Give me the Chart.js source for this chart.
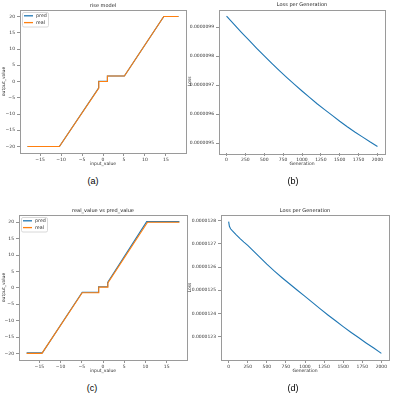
<!DOCTYPE html>
<html>
<head>
<meta charset="utf-8">
<script src="https://cdn.jsdelivr.net/npm/chart.js@4/dist/chart.umd.min.js"></script>
<style>
body{margin:0;background:#fff;width:396px;height:395px;position:relative;overflow:hidden}
canvas{position:absolute}
.cap{position:absolute;font:9px "Liberation Sans",Arial,sans-serif;color:#000;transform:translate(-50%,-50%)}
</style>
</head>
<body>
<canvas id="ca" width="196" height="173" style="left:0;top:0"></canvas>
<canvas id="cb" width="210" height="173" style="left:186px;top:0"></canvas>
<canvas id="cc" width="196" height="180" style="left:0;top:200px"></canvas>
<canvas id="cd" width="210" height="180" style="left:186px;top:200px"></canvas>
<div class="cap" style="left:93px;top:181px">(a)</div>
<div class="cap" style="left:293px;top:181px">(b)</div>
<div class="cap" style="left:92px;top:388px">(c)</div>
<div class="cap" style="left:293px;top:388px">(d)</div>
<script>
// (a) rise model
var aPredX = [-18, -10.4, -1.05, -1.05, 1.05, 1.05, 5.1, 14.5, 18];
var aPredY = [-20, -20, -2.05, 0.05, 0.05, 1.7, 1.7, 20, 20];
var aRealX = [-18, -10.4, -1.0, -1.0, 1.05, 1.05, 5.1, 14.5, 18];
var aRealY = [-20, -20, -2.0, 0, 0, 1.7, 1.7, 20, 20];

// (c) real_value vs pred_value
var cPredX = [-18, -14.3, -4.9, -1.05, -1.05, 1.1, 1.1, 10.3, 18];
var cPredY = [-19.85, -19.85, -1.35, -1.35, 0.35, 0.35, 1.65, 20.2, 20.2];
var cRealX = [-18, -14.4, -4.9, -1.0, -1.0, 1.15, 1.15, 10.5, 18];
var cRealY = [-20, -20, -1.5, -1.5, 0.2, 0.2, 1.5, 20, 20];

// (b) loss per generation
var genB = [0, 100, 200, 300, 400, 500, 600, 700, 800, 900, 1000,
            1100, 1200, 1300, 1400, 1500, 1600, 1700, 1800, 1900, 2000];
var lossB = [9.938e-6, 9.909e-6, 9.881e-6, 9.854e-6, 9.827e-6, 9.801e-6, 9.775e-6,
             9.750e-6, 9.726e-6, 9.703e-6, 9.680e-6, 9.658e-6, 9.636e-6, 9.616e-6,
             9.596e-6, 9.576e-6, 9.557e-6, 9.539e-6, 9.522e-6, 9.505e-6, 9.489e-6];

// (d) loss per generation
var genD = [0, 10, 25, 50, 100, 150, 200, 250, 300, 400, 500, 600, 700, 800, 900, 1000,
            1100, 1200, 1300, 1400, 1500, 1600, 1700, 1800, 1900, 2000];
var lossD = [1.2795e-5, 1.2775e-5, 1.2764e-5, 1.2755e-5, 1.2738e-5, 1.2722e-5, 1.2707e-5,
             1.2693e-5, 1.2677e-5, 1.2645e-5, 1.2612e-5, 1.2582e-5, 1.2554e-5, 1.2527e-5,
             1.2500e-5, 1.2474e-5, 1.2447e-5, 1.2420e-5, 1.2394e-5, 1.2369e-5, 1.2344e-5,
             1.2320e-5, 1.2297e-5, 1.2274e-5, 1.2252e-5, 1.2229e-5];

// tick positions
var inputTicks = [-15, -10, -5, 0, 5, 10, 15];
var outputTicks = [-20, -15, -10, -5, 0, 5, 10, 15, 20];
var genTicks = [0, 250, 500, 750, 1000, 1250, 1500, 1750, 2000];
var lossBTicks = [9.5e-6, 9.6e-6, 9.7e-6, 9.8e-6, 9.9e-6];
var lossDTicks = [1.23e-5, 1.24e-5, 1.25e-5, 1.26e-5, 1.27e-5, 1.28e-5];

var BLUE = '#1f77b4', ORANGE = '#ff7f0e';
var FONT = '"DejaVu Sans", sans-serif';

function pts(xs, ys) {
  return xs.map(function (x, i) { return {x: x, y: ys[i]}; });
}

function padRange(arrs) {
  var all = [].concat.apply([], arrs);
  var lo = Math.min.apply(null, all), hi = Math.max.apply(null, all);
  var m = (hi - lo) * 0.05;
  return [lo - m, hi + m];
}

function minus(v) {
  return v < 0 ? '\u2212' + Math.abs(v) : String(v);
}

// matplotlib style box round the axes
const frame = {
  id: 'frame',
  afterDraw(chart) {
    const a = chart.chartArea, ctx = chart.ctx;
    ctx.save();
    ctx.strokeStyle = '#9a9a9a';
    ctx.lineWidth = 1;
    ctx.strokeRect(Math.round(a.left) + 0.5, Math.round(a.top) + 0.5,
      Math.round(a.right - a.left), Math.round(a.bottom - a.top));
    ctx.restore();
  }
};

// small legend drawn inside the plot, top left
const boxLegend = {
  id: 'boxLegend',
  afterDraw(chart, args, opts) {
    if (!opts.show) return;
    const a = chart.chartArea, ctx = chart.ctx;
    const x = a.left + 2, y = a.top + 2;
    ctx.save();
    ctx.fillStyle = 'rgba(255,255,255,0.85)';
    ctx.strokeStyle = '#d8d8d8';
    ctx.lineWidth = 1;
    ctx.beginPath();
    ctx.roundRect(x + 0.5, y + 0.5, 26, 14.5, 1.5);
    ctx.fill();
    ctx.stroke();
    ctx.font = '4.8px ' + FONT;
    ctx.textBaseline = 'middle';
    chart.data.datasets.forEach(function (ds, i) {
      const ly = y + 3.8 + i * 6.8;
      ctx.strokeStyle = ds.borderColor;
      ctx.lineWidth = 1.3;
      ctx.beginPath();
      ctx.moveTo(x + 2, ly);
      ctx.lineTo(x + 11, ly);
      ctx.stroke();
      ctx.fillStyle = '#333';
      ctx.fillText(ds.label, x + 14, ly);
    });
    ctx.restore();
  }
};

Chart.register(frame, boxLegend);

function tickAxis(opts) {
  return {
    type: 'linear',
    min: opts.min,
    max: opts.max,
    afterBuildTicks: function (s) {
      s.ticks = opts.ticks.map(function (v) { return {value: v}; });
    },
    afterFit: function (s) {
      if (opts.width) s.width = opts.width;
      if (opts.height) s.height = opts.height;
    },
    border: {display: false},
    grid: {drawOnChartArea: false, drawTicks: true, tickLength: 3, color: '#777', lineWidth: 0.8},
    ticks: {
      autoSkip: false,
      maxRotation: 0,
      padding: opts.tickPad,
      color: '#333',
      font: {family: FONT, size: 4.5},
      callback: opts.fmt
    },
    title: {
      display: true,
      text: opts.title,
      color: '#333',
      font: {family: FONT, size: 4.5},
      padding: opts.titlePad
    }
  };
}

function makeChart(id, datasets, o) {
  return new Chart(document.getElementById(id), {
    type: 'line',
    data: {datasets: datasets},
    options: {
      responsive: false,
      animation: false,
      devicePixelRatio: 1,
      layout: {padding: {left: 0, right: o.padRight, top: 0, bottom: 0}},
      elements: {point: {radius: 0}, line: {borderWidth: 1.1, tension: 0}},
      plugins: {
        legend: {display: false},
        tooltip: {enabled: false},
        boxLegend: {show: o.legend},
        title: {
          display: true,
          text: o.title,
          fullSize: false,
          color: '#222',
          font: {family: FONT, size: 5, weight: 'normal'},
          padding: {top: o.titleTop, bottom: 1.5}
        }
      },
      scales: {
        x: tickAxis({
          min: o.xRange[0], max: o.xRange[1], ticks: o.xTicks, fmt: o.xFmt,
          height: 20, tickPad: 1, title: o.xTitle, titlePad: {top: 0, bottom: 6.5}
        }),
        y: tickAxis({
          min: o.yRange[0], max: o.yRange[1], ticks: o.yTicks, fmt: o.yFmt,
          width: o.yWidth, tickPad: 2, title: o.yTitle, titlePad: {top: 1.5, bottom: 0}
        })
      }
    }
  });
}

function lossFmt(v) { return v.toFixed(7); }
function genFmt(v) { return String(Math.round(v)); }

makeChart('ca', [
  {label: 'pred', data: pts(aPredX, aPredY), borderColor: BLUE, order: 1},
  {label: 'real', data: pts(aRealX, aRealY), borderColor: ORANGE, order: 0}
], {
  title: 'rise model', titleTop: 2.5, legend: true, padRight: 10, yWidth: 20,
  xRange: padRange([aPredX, aRealX]), xTicks: inputTicks, xFmt: minus, xTitle: 'input_value',
  yRange: padRange([aPredY, aRealY]), yTicks: outputTicks, yFmt: minus, yTitle: 'output_value'
});

makeChart('cb', [
  {label: 'loss', data: pts(genB, lossB), borderColor: BLUE}
], {
  title: 'Loss per Generation', titleTop: 2, legend: false, padRight: 11, yWidth: 33,
  xRange: padRange([genB]), xTicks: genTicks, xFmt: genFmt, xTitle: 'Generation',
  yRange: padRange([lossB]), yTicks: lossBTicks, yFmt: lossFmt, yTitle: 'Loss'
});

makeChart('cc', [
  {label: 'pred', data: pts(cPredX, cPredY), borderColor: BLUE, order: 1},
  {label: 'real', data: pts(cRealX, cRealY), borderColor: ORANGE, order: 0}
], {
  title: 'real_value vs pred_value', titleTop: 7.5, legend: true, padRight: 9, yWidth: 19,
  xRange: padRange([cPredX, cRealX]), xTicks: inputTicks, xFmt: minus, xTitle: 'input_value',
  yRange: padRange([cPredY, cRealY]), yTicks: outputTicks, yFmt: minus, yTitle: 'output_value'
});

makeChart('cd', [
  {label: 'loss', data: pts(genD, lossD), borderColor: BLUE}
], {
  title: 'Loss per Generation', titleTop: 7.5, legend: false, padRight: 7, yWidth: 35,
  xRange: padRange([genD]), xTicks: genTicks, xFmt: genFmt, xTitle: 'Generation',
  yRange: padRange([lossD]), yTicks: lossDTicks, yFmt: lossFmt, yTitle: 'Loss'
});
</script>
</body>
</html>
